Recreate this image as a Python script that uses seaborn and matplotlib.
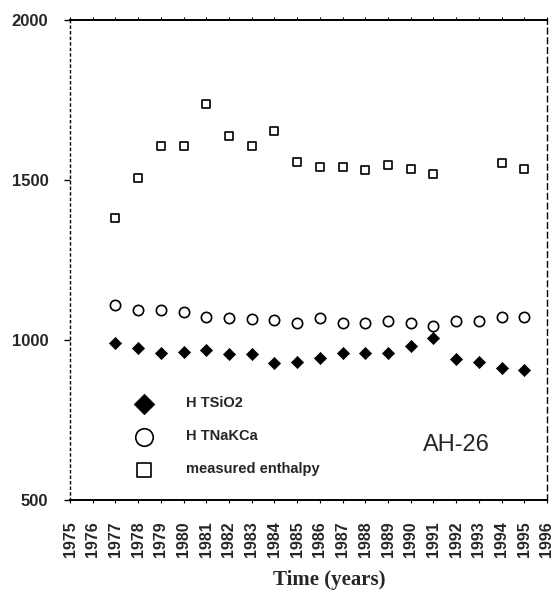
import numpy as np
import pandas as pd
import matplotlib
matplotlib.use("Agg")
import matplotlib.pyplot as plt
import seaborn as sns

# ---- data ----
years_sio2 = [1977, 1978, 1979, 1980, 1981, 1982, 1983, 1984, 1985, 1986, 1987,
              1988, 1989, 1990, 1991, 1992, 1993, 1994, 1995]
h_tsio2 = [991, 975, 959, 962, 969, 956, 956, 928, 931, 944, 959,
           959, 959, 981, 1006, 941, 931, 912, 906]

years_nakca = [1977, 1978, 1979, 1980, 1981, 1982, 1983, 1984, 1985, 1986, 1987,
               1988, 1989, 1990, 1991, 1992, 1993, 1994, 1995]
h_tnakca = [1109, 1094, 1094, 1088, 1072, 1069, 1066, 1062, 1053, 1069, 1053,
            1053, 1059, 1053, 1044, 1059, 1059, 1072, 1072]

years_meas = [1977, 1978, 1979, 1980, 1981, 1982, 1983, 1984, 1985, 1986, 1987,
              1988, 1989, 1990, 1991, 1994, 1995]
h_measured = [1381, 1506, 1606, 1606, 1737, 1637, 1606, 1653, 1556, 1541, 1541,
              1531, 1547, 1534, 1519, 1553, 1534]

year_ticks = list(range(1975, 1997))
y_ticks = [500, 1000, 1500, 2000]

labels = ["H TSiO2", "H TNaKCa", "measured enthalpy"]
well_name = "AH-26"
x_title = "Time (years)"

df_s = pd.DataFrame({"year": years_sio2, "h": h_tsio2})
df_n = pd.DataFrame({"year": years_nakca, "h": h_tnakca})
df_m = pd.DataFrame({"year": years_meas, "h": h_measured})

sns.set_style("white")
plt.rcParams["font.family"] = ["Liberation Sans", "DejaVu Sans"]

fig = plt.figure(figsize=(5.55, 5.92), dpi=100)
ax = fig.add_axes([70 / 555, 1 - 500 / 592, (547 - 70) / 555, (500 - 20) / 592])

sns.scatterplot(data=df_s, x="year", y="h", marker="D", s=38, color="black",
                edgecolor="black", linewidth=0.5, label=labels[0], ax=ax)
sns.scatterplot(data=df_n, x="year", y="h", marker="o", s=55, facecolor="white",
                edgecolor="black", linewidth=1.2, label=labels[1], ax=ax)
sns.scatterplot(data=df_m, x="year", y="h", marker="s", s=40, facecolor="white",
                edgecolor="black", linewidth=1.2, label=labels[2], ax=ax)

ax.set_xlim(1975, 1996)
ax.set_ylim(500, 2000)
ax.set_xticks(year_ticks)
ax.set_xticklabels([str(y) for y in year_ticks], rotation=90, fontsize=11.5,
                   fontweight="bold")
ax.set_yticks(y_ticks)
ax.set_yticklabels([str(v) for v in y_ticks], fontsize=12, fontweight="bold")
ax.tick_params(axis="y", which="both", left=True, direction="out", length=4.5,
               width=1, color="black", pad=11)
ax.tick_params(axis="x", which="both", bottom=True, top=True, direction="out",
               length=2.5, width=0.8, color="black", pad=13)

for side in ["top", "bottom", "left", "right"]:
    ax.spines[side].set_visible(True)
    ax.spines[side].set_color("black")
ax.spines["top"].set_linewidth(1.4)
ax.spines["bottom"].set_linewidth(1.4)
ax.spines["left"].set_linewidth(1.0)
ax.spines["left"].set_linestyle((0, (1.5, 2.5)))
ax.spines["right"].set_linewidth(1.0)
ax.spines["right"].set_linestyle((0, (4, 3)))

ax.set_xlabel(x_title, fontsize=15, fontweight="bold",
              family=["Liberation Serif", "DejaVu Serif"])
ax.xaxis.set_label_coords(0.543, -0.145)
ax.set_ylabel("")

ax.text(0.81, 0.115, well_name, transform=ax.transAxes, fontsize=17,
        ha="center", va="center")

leg = ax.legend(loc="upper left", bbox_to_anchor=(0.105, 0.243), frameon=False,
                markerscale=1.7, prop={"size": 10.5, "weight": "bold"},
                labelspacing=1.3, handletextpad=2.1, handlelength=1.5)

fig.savefig("out.png", dpi=100, facecolor="white")
